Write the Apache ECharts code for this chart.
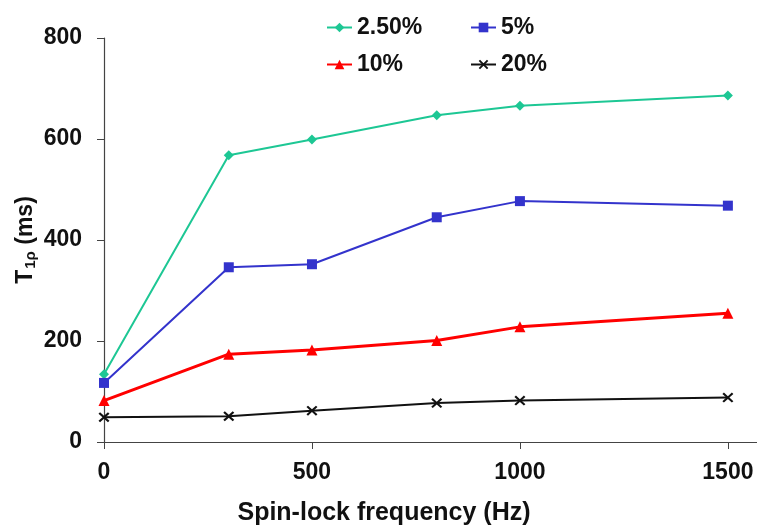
<!DOCTYPE html>
<html><head><meta charset="utf-8">
<script src="https://cdn.jsdelivr.net/npm/echarts@6/dist/echarts.min.js"></script>
<style>html,body{margin:0;padding:0;background:#fff}#c{width:757px;height:527px}</style>
</head><body><div id="c"></div>
<script>
const freqs = [0, 300, 500, 800, 1000, 1500];
const s250 = [134, 568, 599, 647, 666, 686];
const s5 = [117, 346, 352, 445, 477, 468];
const s10 = [82, 174, 182, 201, 228, 255];
const s20 = [49, 51, 62, 77, 82, 88];
const seriesNames = ['2.50%', '5%', '10%', '20%'];
const xTicks = [0, 500, 1000, 1500];

const FONT = '"Liberation Sans", Arial, sans-serif';
const crossPath = 'path://M0,1.4L1.4,0L5,3.6L8.6,0L10,1.4L6.4,5L10,8.6L8.6,10L5,6.4L1.4,10L0,8.6L3.6,5Z';

function pts(arr){ return freqs.map((f,i)=>[f, arr[i]]); }

const chart = echarts.init(document.getElementById('c'), null, {renderer:'canvas'});
const legendBase = {
  itemWidth: 25, itemHeight: 12, itemGap: 4,
  textStyle: {fontFamily: FONT, fontWeight: 'bold', fontSize: 23, color: '#111'}
};
chart.setOption({
  animation: false,
  backgroundColor: '#fff',
  title: {
    text: 'Spin-lock frequency (Hz)',
    left: 379, top: 496, textAlign: 'center',
    textStyle: {fontFamily: FONT, fontWeight: 'bold', fontSize: 25, color: '#111'}
  },
  legend: [
    Object.assign({}, legendBase, {data: [seriesNames[0]], left: 321, top: 11}),
    Object.assign({}, legendBase, {data: [seriesNames[1]], left: 465, top: 11}),
    Object.assign({}, legendBase, {data: [seriesNames[2]], left: 321, top: 48}),
    Object.assign({}, legendBase, {data: [seriesNames[3]], left: 465, top: 48})
  ],
  grid: {left: 104, right: 0, top: 38, bottom: 85, containLabel: false},
  xAxis: {
    type: 'value', min: 0, max: 1570, interval: 500,
    axisLine: {show: true, lineStyle: {color: '#444', width: 1.2}},
    axisTick: {show: true, inside: false, length: 7, customValues: xTicks, lineStyle: {color: '#444'}},
    axisLabel: {customValues: xTicks, margin: 19, formatter: v => String(v),
      fontFamily: FONT, fontWeight: 'bold', fontSize: 23, color: '#111'},
    splitLine: {show: false}
  },
  yAxis: {
    type: 'value', min: 0, max: 800, interval: 200,
    name: '{a|T}{b|1ρ}{a| (ms)}',
    nameLocation: 'middle', nameGap: 66, nameRotate: 90, nameMoveOverlap: false,
    nameTextStyle: {
      rich: {
        a: {fontFamily: FONT, fontWeight: 'bold', fontSize: 23, color: '#111'},
        b: {fontFamily: FONT, fontWeight: 'bold', fontSize: 15, color: '#111', verticalAlign: 'bottom', padding: [9,0,0,1]}
      }
    },
    axisLine: {show: true, lineStyle: {color: '#444', width: 1.2}},
    axisTick: {show: true, inside: false, length: 7, lineStyle: {color: '#444'}},
    axisLabel: {margin: 22, formatter: v => String(v),
      fontFamily: FONT, fontWeight: 'bold', fontSize: 23, color: '#111'},
    splitLine: {show: false}
  },
  series: [
    {name: seriesNames[0], type: 'line', data: pts(s250), symbol: 'diamond', symbolSize: 10,
     lineStyle: {color: '#1dc794', width: 2}, itemStyle: {color: '#1dc794'}},
    {name: seriesNames[1], type: 'line', data: pts(s5), symbol: 'rect', symbolSize: 10,
     lineStyle: {color: '#3333cc', width: 2}, itemStyle: {color: '#3333cc'}},
    {name: seriesNames[2], type: 'line', data: pts(s10), symbol: 'triangle', symbolSize: 11,
     lineStyle: {color: '#ff0000', width: 3}, itemStyle: {color: '#ff0000'}},
    {name: seriesNames[3], type: 'line', data: pts(s20), symbol: crossPath, symbolSize: [11, 10],
     lineStyle: {color: '#111', width: 2}, itemStyle: {color: '#111'}}
  ]
});
</script></body></html>
